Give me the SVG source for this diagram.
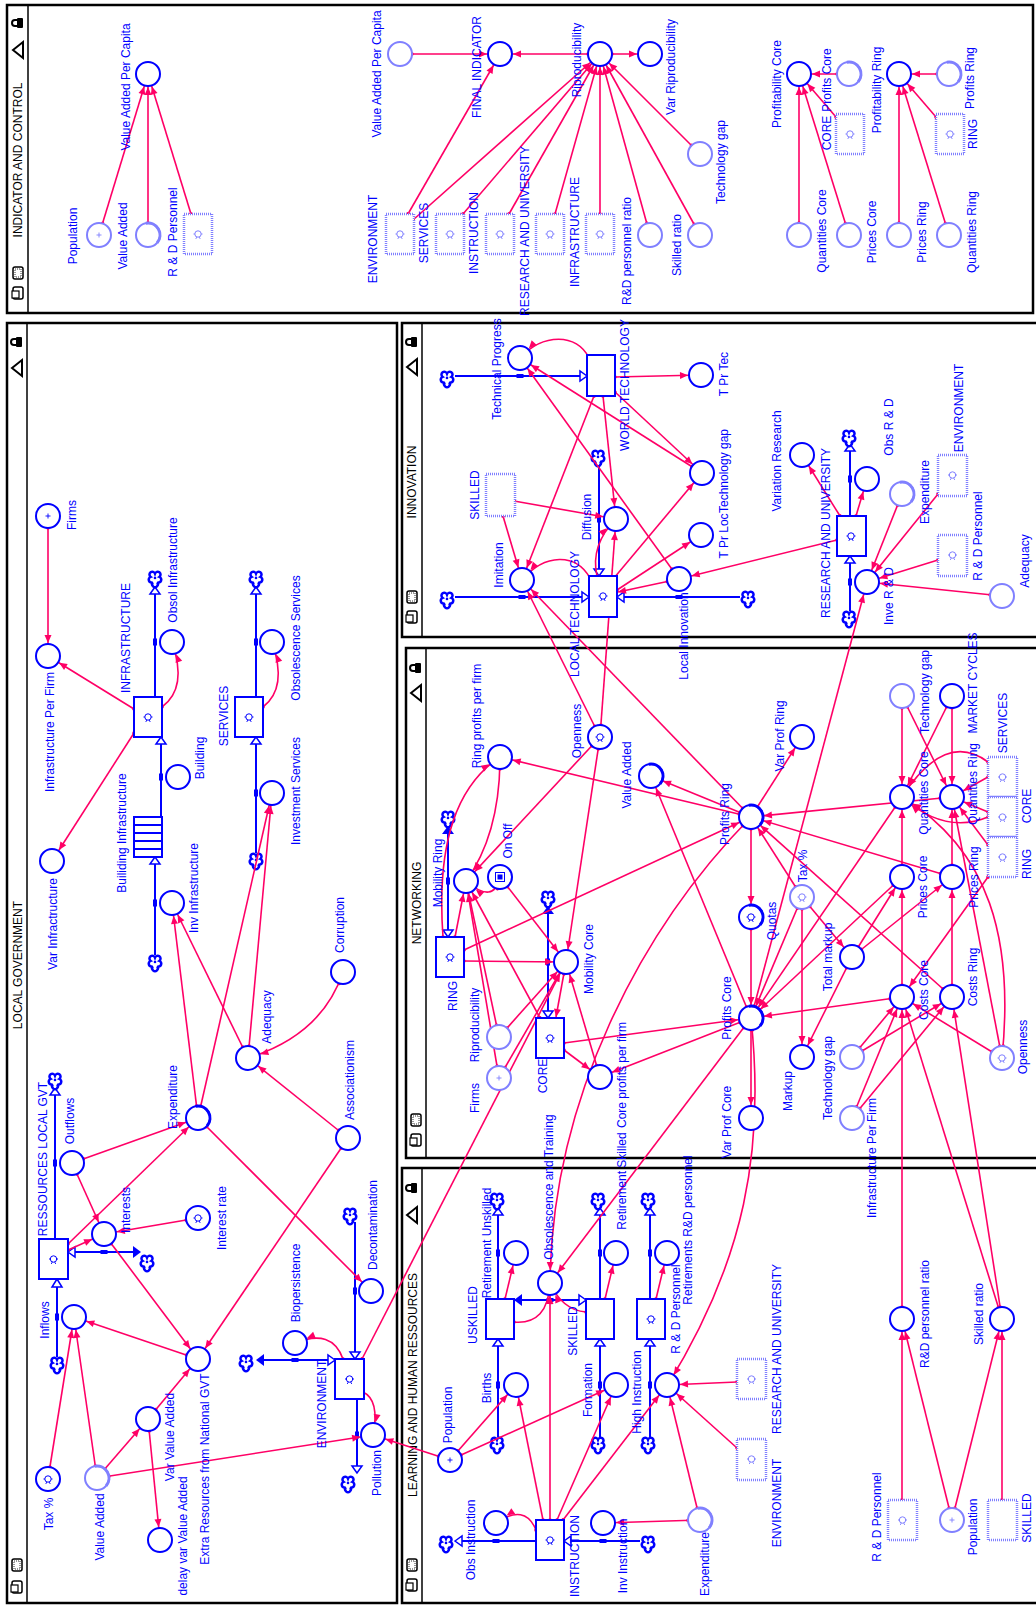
<svg xmlns="http://www.w3.org/2000/svg" xmlns:xlink="http://www.w3.org/1999/xlink" width="1036" height="1605" viewBox="0 0 1036 1605">
<style>
.t{font-family:"Liberation Sans",Arial,sans-serif;font-size:12px;fill:#0000ff;text-anchor:middle}
.h{font-family:"Liberation Sans",Arial,sans-serif;font-size:12px;fill:#000;text-anchor:middle}
.c{fill:#fff;stroke:#0000ff;stroke-width:2}
.g{fill:#fff;stroke:#8080ff;stroke-width:2}
.s{fill:#fff;stroke:#0000ff;stroke-width:2}
.gs{fill:#fff;stroke:#8080ff;stroke-width:2.5;stroke-dasharray:1 1}
.k{fill:none;stroke:#ff0066;stroke-width:1.6;marker-start:url(#d);marker-end:url(#a)}
.r{marker-start:url(#d0)}
.e{marker-end:url(#b)}
.p{stroke:#0000ff;stroke-width:2;fill:none}
.ht{fill:#fff;stroke:#0000ff;stroke-width:1.5}
.ft{fill:#0000ff}
.v{fill:#0000ff}
.fr{fill:none;stroke:#000;stroke-width:2.5}
.dv{stroke:#000;stroke-width:1.5}
.qd{color:#0000ff}
.ql{color:#8080ff}
.ld{stroke:#0000ff}
.ll{stroke:#8080ff}
</style>
<defs>
<marker id="a" markerUnits="userSpaceOnUse" markerWidth="40" markerHeight="12" viewBox="-30 -6 40 12" refX="0" refY="0" orient="auto"><path d="M-21,-3.5L-13,0L-21,3.5z" fill="#ff0066"/></marker>
<marker id="b" markerUnits="userSpaceOnUse" markerWidth="12" markerHeight="12" viewBox="-10 -6 12 12" refX="0" refY="0" orient="auto"><path d="M-8,-3.5L0,0L-8,3.5z" fill="#ff0066"/></marker>
<marker id="d" markerUnits="userSpaceOnUse" markerWidth="20" markerHeight="8" viewBox="0 -4 20 8" refX="0" refY="0" orient="auto"><circle cx="12" cy="0" r="1.8" fill="#ff0066"/></marker>
<marker id="d0" markerUnits="userSpaceOnUse" markerWidth="6" markerHeight="6" viewBox="-3 -3 6 6" refX="0" refY="0" orient="auto"><circle cx="0" cy="0" r="1.8" fill="#ff0066"/></marker>
<g id="q"><circle r="3.2" fill="none" stroke="currentColor" stroke-width="1"/><path d="M-1.2,3.1l-1,1.8M1.2,3.1l1,1.8M-3.2,0h-1.3M3.2,0h1.3" stroke="currentColor" stroke-width="1" fill="none"/></g>
<g id="pl"><path d="M-2.5,0h5M0,-2.5v5" stroke="currentColor" stroke-width="0.9"/></g>
<path id="lp" d="M-2.1,-11.8A12,12 0 0 1 9.2,7.7" fill="none" stroke-width="3"/>
<g id="cl"><path transform="scale(1.1)" d="M-4,-1a2.6,2.6 0 1 1 4,-3a2.6,2.6 0 1 1 4,3a2.6,2.6 0 1 1 -2,5a2.6,2.6 0 1 1 -4,0a2.6,2.6 0 1 1 -2,-5z" fill="#fff" stroke="#0000ff" stroke-width="2.3"/><circle r="1.3" fill="#0000ff"/></g>
<g id="lock"><rect x="-1" y="-5" width="6" height="10" rx="1" fill="#000"/><path d="M-1,-3h-2a3,3 0 0 0 0,6h2" fill="none" stroke="#000" stroke-width="2"/></g>
<path id="tri" d="M-5,0L5,-8L5,8z" fill="#fff" stroke="#000" stroke-width="2"/>
<g id="ic1"><rect x="-5" y="-6" width="10" height="12" rx="2" fill="#fff" stroke="#000" stroke-width="1.5"/><rect x="-3" y="-4" width="6" height="8" fill="none" stroke="#000" stroke-width="0.8" stroke-dasharray="1 1"/></g>
<g id="ic2"><rect x="-5" y="-6" width="10" height="12" rx="2" fill="#fff" stroke="#000" stroke-width="1.5"/><rect x="-6" y="-2" width="7" height="7" fill="#fff" stroke="#000" stroke-width="1.2"/></g>
</defs>
<rect x="0" y="0" width="1036" height="1605" fill="#fff"/>

<g id="frames">
<rect class="fr" x="7" y="5" width="1026" height="308"/><line class="dv" x1="28" y1="5" x2="28" y2="313"/>
<text class="h" transform="translate(18 160) rotate(-90)" dy="4">INDICATOR AND CONTROL</text>
<use href="#lock" x="18" y="23"/><use href="#tri" x="18" y="50"/><use href="#ic1" x="18" y="273"/><use href="#ic2" x="18" y="293"/>
<rect class="fr" x="7" y="323" width="390" height="1280"/><line class="dv" x1="27" y1="323" x2="27" y2="1603"/>
<text class="h" transform="translate(18 965) rotate(-90)" dy="4">LOCAL GOVERNMENT</text>
<use href="#lock" x="17" y="342"/><use href="#tri" x="17" y="368"/><use href="#ic1" x="17" y="1565"/><use href="#ic2" x="17" y="1587"/>
<rect class="fr" x="402" y="323" width="640" height="314"/><line class="dv" x1="422" y1="323" x2="422" y2="637"/>
<text class="h" transform="translate(412 482) rotate(-90)" dy="4">INNOVATION</text>
<use href="#lock" x="412" y="342"/><use href="#tri" x="412" y="367"/><use href="#ic1" x="412" y="597"/><use href="#ic2" x="412" y="617"/>
<rect class="fr" x="406" y="648" width="636" height="510"/><line class="dv" x1="426" y1="648" x2="426" y2="1158"/>
<text class="h" transform="translate(417 903) rotate(-90)" dy="4">NETWORKING</text>
<use href="#lock" x="416" y="668"/><use href="#tri" x="416" y="693"/><use href="#ic1" x="416" y="1120"/><use href="#ic2" x="416" y="1140"/>
<rect class="fr" x="402" y="1168" width="640" height="435"/><line class="dv" x1="422" y1="1168" x2="422" y2="1603"/>
<text class="h" transform="translate(413 1385) rotate(-90)" dy="4">LEARNING AND HUMAN RESSOURCES</text>
<use href="#lock" x="412" y="1188"/><use href="#tri" x="412" y="1215"/><use href="#ic1" x="412" y="1565"/><use href="#ic2" x="412" y="1585"/>
</g>

<g id="flows">
<path class="p" d="M155,697V594M256,697V594M161,817V744M155,955V864M256,853V744M55,1239V1095M57,1357V1287M68,1252H133M335,1360H264M355,1222V1352M357,1399V1466"/>
<polygon class="ht" points="155,587 150,594 160,594"/><use href="#cl" x="155" y="578"/>
<polygon class="ht" points="256,587 251,594 261,594"/><use href="#cl" x="256" y="578"/>
<polygon class="ht" points="161,737 156,744 166,744"/>
<polygon class="ht" points="155,857 150,864 160,864"/><use href="#cl" x="155" y="962"/>
<polygon class="ht" points="256,737 251,744 261,744"/><use href="#cl" x="256" y="860"/>
<polygon class="ht" points="55,1088 50,1095 60,1095"/><use href="#cl" x="55" y="1080"/>
<polygon class="ht" points="57,1279 52,1287 62,1287"/><use href="#cl" x="57" y="1364"/>
<polygon class="ft" points="141,1252 133,1246 133,1258"/><polygon class="ht" points="68,1252 75,1247 75,1257"/><use href="#cl" x="147" y="1262"/>
<polygon class="ft" points="256,1360 264,1354 264,1366"/><polygon class="ht" points="335,1360 328,1355 328,1365"/><use href="#cl" x="246" y="1362"/>
<polygon class="ht" points="355,1359 350,1352 360,1352"/><use href="#cl" x="350" y="1215"/>
<polygon class="ht" points="357,1473 352,1466 362,1466"/><use href="#cl" x="348" y="1483"/>
<rect class="s" x="134" y="817" width="28" height="40"/><path class="p" d="M134,825H162M134,833H162M134,841H162M134,849H162" stroke-width="1.5"/>
<path class="p" d="M455,376H580M599,464V569M455,597H582M740,597H624M850,516V451M850,611V563"/>
<polygon class="ht" points="587,376 580,371 580,381"/><use href="#cl" x="447" y="378"/>
<polygon class="ht" points="599,576 594,569 604,569"/><use href="#cl" x="598" y="457"/>
<polygon class="ht" points="589,597 582,592 582,602"/><use href="#cl" x="447" y="599"/>
<polygon class="ht" points="617,597 624,592 624,602"/><use href="#cl" x="748" y="598"/>
<polygon class="ht" points="850,444 845,451 855,451"/><use href="#cl" x="849" y="437"/>
<polygon class="ht" points="850,556 845,563 855,563"/><use href="#cl" x="849" y="618"/>
<path class="p" d="M448,834V930M548,914V1011"/>
<polygon class="ft" points="448,826 442,834 454,834"/><polygon class="ht" points="448,937 443,930 453,930"/><use href="#cl" x="448" y="818"/>
<polygon class="ft" points="548,906 542,914 554,914"/><polygon class="ht" points="548,1018 543,1011 553,1011"/><use href="#cl" x="548" y="898"/>
<path class="p" d="M498,1299V1215M498,1437V1346M514,1300H586M600,1299V1215M600,1437V1346M650,1299V1215M650,1437V1346M536,1541H462M640,1541H571"/>
<polygon class="ht" points="498,1208 493,1215 503,1215"/><use href="#cl" x="497" y="1200"/>
<polygon class="ht" points="498,1339 493,1346 503,1346"/><use href="#cl" x="497" y="1444"/>
<polygon class="ft" points="514,1300 522,1294 522,1306"/><polygon class="ht" points="586,1300 579,1295 579,1305"/>
<polygon class="ht" points="600,1208 595,1215 605,1215"/><use href="#cl" x="598" y="1200"/>
<polygon class="ht" points="600,1339 595,1346 605,1346"/><use href="#cl" x="598" y="1444"/>
<polygon class="ht" points="650,1208 645,1215 655,1215"/><use href="#cl" x="648" y="1200"/>
<polygon class="ht" points="650,1339 645,1346 655,1346"/><use href="#cl" x="648" y="1444"/>
<polygon class="ht" points="455,1541 462,1536 462,1546"/><use href="#cl" x="446" y="1543"/>
<polygon class="ht" points="564,1541 571,1536 571,1546"/><use href="#cl" x="648" y="1543"/>
<g class="v">
<rect x="153" y="638.5" width="4" height="7"/><rect x="254" y="638.5" width="4" height="7"/><rect x="159" y="773.5" width="4" height="7"/><rect x="153" y="899.5" width="4" height="7"/><rect x="254" y="789.5" width="4" height="7"/><rect x="53" y="1159.5" width="4" height="7"/><rect x="55" y="1313.5" width="4" height="7"/><rect x="100.5" y="1250" width="7" height="4"/><rect x="291.5" y="1358" width="7" height="4"/><rect x="353" y="1287.5" width="4" height="7"/><rect x="355" y="1431.5" width="4" height="7"/>
<rect x="516.5" y="374" width="7" height="4"/><rect x="597" y="515.5" width="4" height="7"/><rect x="518.5" y="595" width="7" height="4"/><rect x="675.5" y="595" width="7" height="4"/><rect x="848" y="475.5" width="4" height="7"/><rect x="848" y="578.5" width="4" height="7"/>
<rect x="446" y="877.5" width="4" height="7"/><rect x="546" y="958.5" width="4" height="7"/>
<rect x="496" y="1249.5" width="4" height="7"/><rect x="496" y="1381.5" width="4" height="7"/><rect x="546.5" y="1298" width="7" height="4"/><rect x="598" y="1249.5" width="4" height="7"/><rect x="598" y="1381.5" width="4" height="7"/><rect x="648" y="1249.5" width="4" height="7"/><rect x="648" y="1381.5" width="4" height="7"/><rect x="492.5" y="1539" width="7" height="4"/><rect x="599.5" y="1539" width="7" height="4"/>
</g>
</g>

<g id="connectors">
<path class="k" d="M99,235L148,74"/><path class="k" d="M148,235L148,74"/><path class="k r" d="M191,214L148,74"/>
<path class="k" d="M400,54L500,54"/><path class="k r" d="M408,214L500,54"/><path class="k r" d="M413,220L600,54"/><path class="k r" d="M463,214L600,54"/><path class="k r" d="M509,214L600,54"/><path class="k r" d="M555,214L600,54"/><path class="k r" d="M600,214L600,54"/><path class="k" d="M650,235L600,54"/><path class="k" d="M700,235L600,54"/><path class="k" d="M700,154L600,54"/><path class="k" d="M600,54L500,54"/><path class="k" d="M600,54L650,54"/>
<path class="k" d="M849,74L799,74"/><path class="k r" d="M836,117L799,74"/><path class="k" d="M799,235L799,74"/><path class="k" d="M849,235L799,74"/>
<path class="k" d="M949,74L899,74"/><path class="k r" d="M936,117L899,74"/><path class="k" d="M899,235L899,74"/><path class="k" d="M949,235L899,74"/>

<path class="k" d="M48,516L48,656"/><path class="k r" d="M134,709L48,656"/><path class="k r" d="M134,733L52,861"/>
<path class="k r" d="M162,707Q188,688 172,642"/><path class="k r" d="M263,707Q288,688 272,642"/>
<path class="k" d="M198,1118L172,903"/><path class="k" d="M198,1118L272,793"/><path class="k" d="M248,1058L172,903"/><path class="k" d="M248,1058L272,793"/>
<path class="k" d="M343,972Q322,1035 248,1058"/><path class="k" d="M348,1138L248,1058"/><path class="k" d="M348,1138L198,1359"/>
<path class="k" d="M72,1163L198,1118"/><path class="k r" d="M68,1244L198,1118"/><path class="k" d="M72,1163L104,1234"/><path class="k r" d="M68,1250L104,1234"/>
<path class="k" d="M198,1218L104,1234"/><path class="k" d="M104,1234L198,1359"/><path class="k" d="M198,1359L74,1317"/><path class="k" d="M48,1479L74,1317"/><path class="k" d="M97,1478L74,1317"/><path class="k" d="M97,1478L148,1419"/><path class="k" d="M148,1419L198,1359"/><path class="k" d="M148,1419L160,1540"/><path class="k" d="M97,1478L373,1435"/><path class="k" d="M198,1118L371,1291"/>
<path class="k r" d="M343,1359Q332,1328 295,1343"/><path class="k r" d="M363,1392Q380,1400 373,1435"/><path class="k" d="M450,1460L373,1435"/><path class="k r" d="M362,1359L566,962"/>

<path class="k r" d="M443,937C436,840 458,785 500,757"/><path class="k" d="M500,757C500,800 492,845 466,881"/><path class="k" d="M600,737L466,881"/><path class="k" d="M500,877Q494,905 466,881"/>
<path class="k" d="M500,877L566,962"/><path class="k" d="M600,737L566,962"/><path class="k r" d="M464,961L566,962"/><path class="k r" d="M464,950L751,817"/><path class="k r" d="M455,937L466,881"/>
<path class="k" d="M499,1037L466,881"/><path class="k" d="M499,1078L466,881"/><path class="k r" d="M540,1018L466,881"/><path class="k" d="M499,1037L566,962"/><path class="k" d="M499,1078L566,962"/>
<path class="k e" d="M566,962L556,1017"/><path class="k" d="M600,1077L566,962"/><path class="k r" d="M564,1050L600,1077"/><path class="k r" d="M564,1043L751,1018"/><path class="k" d="M751,1018L600,1077"/>
<path class="k" d="M751,817L500,757"/><path class="k" d="M751,817L651,776"/><path class="k" d="M751,1018L651,776"/><path class="k" d="M751,817L802,737"/><path class="k" d="M751,817L751,917"/><path class="k" d="M751,917L751,1018"/>
<path class="k" d="M902,797L751,1018"/><path class="k" d="M902,877L751,1018"/><path class="k" d="M902,997L751,1018"/><path class="k" d="M952,797L751,817"/><path class="k" d="M952,877L751,817"/><path class="k" d="M952,997L751,817"/>
<path class="k" d="M802,897L751,817"/><path class="k" d="M802,897L751,1018"/><path class="k" d="M802,897L802,1057"/><path class="k" d="M802,897L852,957"/><path class="k" d="M852,957L802,1057"/><path class="k" d="M852,957L902,877"/><path class="k" d="M852,957L952,877"/>
<path class="k" d="M902,877L902,797"/><path class="k" d="M902,997L902,877"/><path class="k" d="M952,877L952,797"/><path class="k" d="M952,997L952,877"/>
<path class="k" d="M902,696L902,797"/><path class="k" d="M902,696L952,797"/><path class="k" d="M952,696L952,797"/><path class="k" d="M952,696L902,797"/>
<path class="k r" d="M988,762Q945,730 902,797"/><path class="k r" d="M988,777L952,797"/><path class="k r" d="M988,812L952,797"/><path class="k r" d="M988,817Q945,835 902,797"/><path class="k r" d="M988,845L952,797"/><path class="k r" d="M988,877L902,997"/>
<path class="k" d="M1002,1058L902,997"/><path class="k" d="M1002,1058L952,797"/><path class="k" d="M1002,1058C1014,940 990,850 902,797"/>
<path class="k" d="M852,1057L902,997"/><path class="k" d="M852,1057L952,997"/><path class="k" d="M852,1118L902,997"/><path class="k" d="M852,1118L952,997"/>
<path class="k" d="M902,1319L902,997"/><path class="k" d="M1002,1319L902,997"/><path class="k" d="M1002,1319L952,997"/>
<path class="k" d="M751,1018L867,582"/><path class="k" d="M751,1018L751,1118"/><path class="k" d="M751,1018C765,1150 745,1260 667,1386"/><path class="k" d="M751,817C640,930 552,1100 550,1283"/><path class="k" d="M751,1018L550,1283"/>

<path class="k r" d="M589,358C577,333 543,333 520,358"/><path class="k r" d="M615,377L701,375"/><path class="k r" d="M594,396L522,580"/><path class="k r" d="M603,396L616,519"/><path class="k r" d="M615,392L702,473"/>
<path class="k" d="M702,473L520,358"/><path class="k" d="M679,579L520,358"/><path class="k r" d="M514,501L616,519"/><path class="k r" d="M503,516L522,580"/>
<path class="k r" d="M597,576Q590,545 616,519"/><path class="k r" d="M590,578C576,553 545,553 522,580"/><path class="k r" d="M617,590L701,535"/><path class="k r" d="M614,578L702,473"/><path class="k e" d="M679,579L618,592"/>
<path class="k r" d="M837,540L679,579"/><path class="k r" d="M840,516L802,455"/><path class="k r" d="M856,516L867,479"/>
<path class="k" d="M902,494L867,582"/><path class="k r" d="M938,494L867,582"/><path class="k r" d="M938,560L867,582"/><path class="k" d="M1002,596L867,582"/>
<path class="k" d="M600,737L522,580"/><path class="k" d="M751,817L522,580"/><path class="k" d="M600,737L616,519"/>

<path class="k r" d="M505,1299L516,1253"/><path class="k r" d="M605,1299L616,1253"/><path class="k r" d="M656,1299L667,1253"/>
<path class="k" d="M450,1460L516,1385"/><path class="k" d="M450,1460L616,1385"/>
<path class="k r" d="M543,1520L516,1385"/><path class="k r" d="M550,1520L550,1283"/><path class="k r" d="M557,1520L616,1385"/><path class="k r" d="M563,1520L667,1385"/>
<path class="k r" d="M536,1530Q525,1503 496,1523"/><path class="k" d="M700,1520L603,1523"/><path class="k" d="M700,1520L667,1385"/>
<path class="k r" d="M514,1322Q548,1325 550,1283"/><path class="k r" d="M586,1312Q562,1310 550,1283"/>
<path class="k r" d="M737,1382L667,1385"/><path class="k r" d="M737,1448L667,1385"/>
<path class="k r" d="M902,1500L902,1319"/><path class="k" d="M952,1520L902,1319"/><path class="k" d="M952,1520L1002,1319"/><path class="k r" d="M1002,1500L1002,1319"/>
</g>

<g id="top-nodes">
<g id="t-pop"><circle class="g" cx="99" cy="235" r="12"/><use href="#pl" x="99" y="235" class="ql"/><text class="t" transform="translate(73 236) rotate(-90)" dy="4">Population</text></g>
<g id="t-va"><circle class="g" cx="148" cy="235" r="12"/><use href="#lp" x="148" y="235" class="ll"/><text class="t" transform="translate(123 236) rotate(-90)" dy="4">Value Added</text></g>
<g id="t-rdp"><rect class="gs" x="184" y="214" width="28" height="40"/><use href="#q" x="198" y="234" class="ql"/><text class="t" transform="translate(173 232) rotate(-90)" dy="4">R &amp; D Personnel</text></g>
<g id="t-vapc"><circle class="c" cx="148" cy="74" r="12"/><text class="t" transform="translate(126 87) rotate(-90)" dy="4">Value Added Per Capita</text></g>
<g id="t-vapc2"><circle class="g" cx="400" cy="54" r="12"/><text class="t" transform="translate(377 74) rotate(-90)" dy="4">Value Added Per Capita</text></g>
<g id="t-final"><circle class="c" cx="500" cy="54" r="12"/><text class="t" transform="translate(477 67) rotate(-90)" dy="4">FINAL INDICATOR</text></g>
<g id="t-env"><rect class="gs" x="386" y="214" width="28" height="40"/><use href="#q" x="400" y="234" class="ql"/><text class="t" transform="translate(373 239) rotate(-90)" dy="4">ENVIRONMENT</text></g>
<g id="t-serv"><rect class="gs" x="436" y="214" width="28" height="40"/><use href="#q" x="450" y="234" class="ql"/><text class="t" transform="translate(424 233) rotate(-90)" dy="4">SERVICES</text></g>
<g id="t-instr"><rect class="gs" x="486" y="214" width="28" height="40"/><use href="#q" x="500" y="234" class="ql"/><text class="t" transform="translate(474 233) rotate(-90)" dy="4">INSTRUCTION</text></g>
<g id="t-ru"><rect class="gs" x="536" y="214" width="28" height="40"/><use href="#q" x="550" y="234" class="ql"/><text class="t" transform="translate(525 231) rotate(-90)" dy="4">RESEARCH AND UNIVERSITY</text></g>
<g id="t-infra"><rect class="gs" x="586" y="214" width="28" height="40"/><use href="#q" x="600" y="234" class="ql"/><text class="t" transform="translate(575 232) rotate(-90)" dy="4">INFRASTRUCTURE</text></g>
<g id="t-rip"><circle class="c" cx="600" cy="54" r="12"/><text class="t" transform="translate(577 60) rotate(-90)" dy="4">Riproducibility</text></g>
<g id="t-varrip"><circle class="c" cx="650" cy="54" r="12"/><text class="t" transform="translate(671 67) rotate(-90)" dy="4">Var Riproducibility</text></g>
<g id="t-rdr"><circle class="g" cx="650" cy="235" r="12"/><text class="t" transform="translate(627 251) rotate(-90)" dy="4">R&amp;D personnel ratio</text></g>
<g id="t-skr"><circle class="g" cx="700" cy="235" r="12"/><text class="t" transform="translate(677 245) rotate(-90)" dy="4">Skilled ratio</text></g>
<g id="t-tg"><circle class="g" cx="700" cy="154" r="12"/><text class="t" transform="translate(721 162) rotate(-90)" dy="4">Technology gap</text></g>
<g id="t-profc"><circle class="c" cx="799" cy="74" r="12"/><text class="t" transform="translate(777 84) rotate(-90)" dy="4">Profitability Core</text></g>
<g id="t-pc"><circle class="g" cx="849" cy="74" r="12"/><use href="#lp" x="849" y="74" class="ll"/><text class="t" transform="translate(827 80) rotate(-90)" dy="4">Profits Core</text></g>
<g id="t-core"><rect class="gs" x="836" y="114" width="28" height="40"/><use href="#q" x="850" y="134" class="ql"/><text class="t" transform="translate(827 133) rotate(-90)" dy="4">CORE</text></g>
<g id="t-qc"><circle class="g" cx="799" cy="235" r="12"/><text class="t" transform="translate(822 231) rotate(-90)" dy="4">Quantities Core</text></g>
<g id="t-prc"><circle class="g" cx="849" cy="235" r="12"/><text class="t" transform="translate(872 232) rotate(-90)" dy="4">Prices Core</text></g>
<g id="t-profr"><circle class="c" cx="899" cy="74" r="12"/><text class="t" transform="translate(877 90) rotate(-90)" dy="4">Profitability Ring</text></g>
<g id="t-pr"><circle class="g" cx="949" cy="74" r="12"/><use href="#lp" x="949" y="74" class="ll"/><text class="t" transform="translate(970 78) rotate(-90)" dy="4">Profits Ring</text></g>
<g id="t-ring"><rect class="gs" x="936" y="114" width="28" height="40"/><use href="#q" x="950" y="134" class="ql"/><text class="t" transform="translate(973 134) rotate(-90)" dy="4">RING</text></g>
<g id="t-prr"><circle class="g" cx="899" cy="235" r="12"/><text class="t" transform="translate(922 232) rotate(-90)" dy="4">Prices Ring</text></g>
<g id="t-qr"><circle class="g" cx="949" cy="235" r="12"/><text class="t" transform="translate(972 232) rotate(-90)" dy="4">Quantities Ring</text></g>
</g>

<g id="locgov-nodes">
<g id="l-firms"><circle class="c" cx="48" cy="516" r="12"/><use href="#pl" x="48" y="516" class="qd"/><text class="t" transform="translate(72 515) rotate(-90)" dy="4">Firms</text></g>
<g id="l-ipf"><circle class="c" cx="48" cy="656" r="12"/><text class="t" transform="translate(50 732) rotate(-90)" dy="4">Infrastructure Per Firm</text></g>
<g id="l-infra"><rect class="s" x="134" y="697" width="28" height="40"/><use href="#q" x="148" y="717" class="qd"/><text class="t" transform="translate(126 638) rotate(-90)" dy="4">INFRASTRUCTURE</text></g>
<g id="l-obsinf"><circle class="c" cx="172" cy="642" r="12"/><text class="t" transform="translate(173 570) rotate(-90)" dy="4">Obsol Infrastructure</text></g>
<g id="l-serv"><rect class="s" x="235" y="697" width="28" height="40"/><use href="#q" x="249" y="717" class="qd"/><text class="t" transform="translate(224 716) rotate(-90)" dy="4">SERVICES</text></g>
<g id="l-obssrv"><circle class="c" cx="272" cy="642" r="12"/><text class="t" transform="translate(296 638) rotate(-90)" dy="4">Obsolescence Services</text></g>
<g id="l-bldinf"><text class="t" transform="translate(122 833) rotate(-90)" dy="4">Builiding Infrastructure</text></g>
<g id="l-building"><circle class="c" cx="178" cy="777" r="12"/><text class="t" transform="translate(200 758) rotate(-90)" dy="4">Building</text></g>
<g id="l-invinf"><circle class="c" cx="172" cy="903" r="12"/><text class="t" transform="translate(194 888) rotate(-90)" dy="4">Inv Infrastructure</text></g>
<g id="l-varinf"><circle class="c" cx="52" cy="861" r="12"/><text class="t" transform="translate(53 924) rotate(-90)" dy="4">Var Infractructure</text></g>
<g id="l-invsrv"><circle class="c" cx="272" cy="793" r="12"/><text class="t" transform="translate(296 791) rotate(-90)" dy="4">Investment Services</text></g>
<g id="l-corr"><circle class="c" cx="343" cy="972" r="12"/><text class="t" transform="translate(340 925) rotate(-90)" dy="4">Corruption</text></g>
<g id="l-adeq"><circle class="c" cx="248" cy="1058" r="12"/><text class="t" transform="translate(267 1017) rotate(-90)" dy="4">Adequacy</text></g>
<g id="l-assoc"><circle class="c" cx="348" cy="1138" r="12"/><text class="t" transform="translate(350 1080) rotate(-90)" dy="4">Associationism</text></g>
<g id="l-expend"><circle class="c" cx="198" cy="1118" r="12"/><use href="#lp" x="198" y="1118" class="ld"/><text class="t" transform="translate(173 1097) rotate(-90)" dy="4">Expenditure</text></g>
<g id="l-outflows"><circle class="c" cx="72" cy="1163" r="12"/><text class="t" transform="translate(70 1121) rotate(-90)" dy="4">Outflows</text></g>
<g id="l-res"><rect class="s" x="39" y="1239" width="29" height="40"/><use href="#q" x="53.5" y="1259" class="qd"/><text class="t" transform="translate(43 1159) rotate(-90)" dy="4">RESSOURCES LOCAL GVT</text></g>
<g id="l-interests"><circle class="c" cx="104" cy="1234" r="12"/><text class="t" transform="translate(126 1210) rotate(-90)" dy="4">Interests</text></g>
<g id="l-irate"><circle class="c" cx="198" cy="1218" r="12"/><use href="#q" x="198" y="1218" class="qd"/><text class="t" transform="translate(222 1218) rotate(-90)" dy="4">Interest rate</text></g>
<g id="l-extra"><circle class="c" cx="198" cy="1359" r="12"/><text class="t" transform="translate(205 1469) rotate(-90)" dy="4">Extra Resources from National GVT</text></g>
<g id="l-inflows"><circle class="c" cx="74" cy="1317" r="12"/><text class="t" transform="translate(45 1320) rotate(-90)" dy="4">Inflows</text></g>
<g id="l-tax"><circle class="c" cx="48" cy="1479" r="12"/><use href="#q" x="48" y="1479" class="qd"/><text class="t" transform="translate(49 1514) rotate(-90)" dy="4">Tax %</text></g>
<g id="l-va"><circle class="g" cx="97" cy="1478" r="12"/><use href="#lp" x="97" y="1478" class="ll"/><text class="t" transform="translate(100 1527) rotate(-90)" dy="4">Value Added</text></g>
<g id="l-varva"><circle class="c" cx="148" cy="1419" r="12"/><text class="t" transform="translate(170 1437) rotate(-90)" dy="4">Var Value Added</text></g>
<g id="l-delay"><circle class="c" cx="160" cy="1540" r="12"/><text class="t" transform="translate(183 1536) rotate(-90)" dy="4">delay var Value Added</text></g>
<g id="l-env"><rect class="s" x="335" y="1359" width="29" height="40"/><use href="#q" x="349.5" y="1379" class="qd"/><text class="t" transform="translate(322 1404) rotate(-90)" dy="4">ENVIRONMENT</text></g>
<g id="l-bio"><circle class="c" cx="295" cy="1343" r="12"/><text class="t" transform="translate(296 1283) rotate(-90)" dy="4">Biopersistence</text></g>
<g id="l-decon"><circle class="c" cx="371" cy="1291" r="12"/><text class="t" transform="translate(373 1225) rotate(-90)" dy="4">Decontamination</text></g>
<g id="l-poll"><circle class="c" cx="373" cy="1435" r="12"/><text class="t" transform="translate(377 1473) rotate(-90)" dy="4">Pollution</text></g>
</g>

<g id="innovation-nodes">
<g id="i-tp"><circle class="c" cx="520" cy="358" r="12"/><text class="t" transform="translate(497 369) rotate(-90)" dy="4">Technical Progress</text></g>
<g id="i-wt"><rect class="s" x="587" y="355" width="28" height="41"/><text class="t" transform="translate(625 385) rotate(-90)" dy="4">WORLD TECHNOLOGY</text></g>
<g id="i-tprtec"><circle class="c" cx="701" cy="375" r="12"/><text class="t" transform="translate(724 374) rotate(-90)" dy="4">T Pr Tec</text></g>
<g id="i-tg"><circle class="c" cx="702" cy="473" r="12"/><text class="t" transform="translate(724 471) rotate(-90)" dy="4">Technology gap</text></g>
<g id="i-tprloc"><circle class="c" cx="701" cy="535" r="12"/><text class="t" transform="translate(724 536) rotate(-90)" dy="4">T Pr Loc</text></g>
<g id="i-skilled"><rect class="gs" x="486" y="474" width="29" height="42"/><text class="t" transform="translate(475 495) rotate(-90)" dy="4">SKILLED</text></g>
<g id="i-diff"><circle class="c" cx="616" cy="519" r="12"/><text class="t" transform="translate(587 517) rotate(-90)" dy="4">Diffusion</text></g>
<g id="i-lt"><rect class="s" x="589" y="576" width="28" height="41"/><use href="#q" x="603" y="596" class="qd"/><text class="t" transform="translate(575 614) rotate(-90)" dy="4">LOCAL TECHNOLOGY</text></g>
<g id="i-imit"><circle class="c" cx="522" cy="580" r="12"/><text class="t" transform="translate(499 565) rotate(-90)" dy="4">Imitation</text></g>
<g id="i-li"><circle class="c" cx="679" cy="579" r="12"/><text class="t" transform="translate(684 636) rotate(-90)" dy="4">Local Innovation</text></g>
<g id="i-ru"><rect class="s" x="837" y="516" width="29" height="40"/><use href="#q" x="851" y="536" class="qd"/><text class="t" transform="translate(826 533) rotate(-90)" dy="4">RESEARCH AND UNIVERSITY</text></g>
<g id="i-obsrd"><circle class="c" cx="867" cy="479" r="12"/><text class="t" transform="translate(889 427) rotate(-90)" dy="4">Obs R &amp; D</text></g>
<g id="i-inverd"><circle class="c" cx="867" cy="582" r="12"/><text class="t" transform="translate(889 596) rotate(-90)" dy="4">Inve R &amp; D</text></g>
<g id="i-varres"><circle class="c" cx="802" cy="455" r="12"/><text class="t" transform="translate(777 461) rotate(-90)" dy="4">Variation Research</text></g>
<g id="i-expend"><circle class="g" cx="902" cy="494" r="12"/><use href="#lp" x="902" y="494" class="ll"/><text class="t" transform="translate(925 492) rotate(-90)" dy="4">Expenditure</text></g>
<g id="i-env"><rect class="gs" x="938" y="455" width="29" height="41"/><use href="#q" x="952.5" y="475" class="ql"/><text class="t" transform="translate(959 408) rotate(-90)" dy="4">ENVIRONMENT</text></g>
<g id="i-rdp"><rect class="gs" x="938" y="535" width="29" height="41"/><use href="#q" x="952.5" y="555" class="ql"/><text class="t" transform="translate(978 536) rotate(-90)" dy="4">R &amp; D Personnel</text></g>
<g id="i-adeq"><circle class="g" cx="1002" cy="596" r="12"/><text class="t" transform="translate(1025 561) rotate(-90)" dy="4">Adequacy</text></g>
</g>

<g id="networking-nodes">
<g id="n-rppf"><circle class="c" cx="500" cy="757" r="12"/><text class="t" transform="translate(477 716) rotate(-90)" dy="4">Ring profits per firm</text></g>
<g id="n-mobring"><circle class="c" cx="466" cy="881" r="12"/><text class="t" transform="translate(438 873) rotate(-90)" dy="4">Mobility Ring</text></g>
<g id="n-onoff"><circle class="c" cx="500" cy="877" r="12"/><rect x="495.5" y="872.5" width="9" height="9" fill="none" stroke="#0000ff" stroke-width="1"/><rect x="497.5" y="874.5" width="5" height="5" fill="#0000ff"/><text class="t" transform="translate(508 841) rotate(-90)" dy="4">On Off</text></g>
<g id="n-ring"><rect class="s" x="436" y="937" width="28" height="40"/><use href="#q" x="450" y="957" class="qd"/><text class="t" transform="translate(453 996) rotate(-90)" dy="4">RING</text></g>
<g id="n-mobcore"><circle class="c" cx="566" cy="962" r="12"/><text class="t" transform="translate(589 959) rotate(-90)" dy="4">Mobility Core</text></g>
<g id="n-core"><rect class="s" x="536" y="1018" width="28" height="40"/><use href="#q" x="550" y="1038" class="qd"/><text class="t" transform="translate(543 1076) rotate(-90)" dy="4">CORE</text></g>
<g id="n-rip"><circle class="g" cx="499" cy="1037" r="12"/><text class="t" transform="translate(475 1025) rotate(-90)" dy="4">Riproducibility</text></g>
<g id="n-firms"><circle class="g" cx="499" cy="1078" r="12"/><use href="#pl" x="499" y="1078" class="ql"/><text class="t" transform="translate(475 1098) rotate(-90)" dy="4">Firms</text></g>
<g id="n-open"><circle class="c" cx="600" cy="737" r="12"/><use href="#q" x="600" y="737" class="qd"/><text class="t" transform="translate(577 731) rotate(-90)" dy="4">Openness</text></g>
<g id="n-va"><circle class="c" cx="651" cy="776" r="12"/><use href="#lp" x="651" y="776" class="ld"/><text class="t" transform="translate(627 775) rotate(-90)" dy="4">Value Added</text></g>
<g id="n-cppf"><circle class="c" cx="600" cy="1077" r="12"/><text class="t" transform="translate(622 1075) rotate(-90)" dy="4">Core profits per firm</text></g>
<g id="n-profring"><circle class="c" cx="751" cy="817" r="12"/><use href="#lp" x="751" y="817" class="ld"/><text class="t" transform="translate(725 814) rotate(-90)" dy="4">Profits Ring</text></g>
<g id="n-varprofring"><circle class="c" cx="802" cy="737" r="12"/><text class="t" transform="translate(780 736) rotate(-90)" dy="4">Var Prof Ring</text></g>
<g id="n-quotas"><circle class="c" cx="751" cy="917" r="12"/><use href="#lp" x="751" y="917" class="ld"/><use href="#q" x="751" y="917" class="qd"/><text class="t" transform="translate(772 921) rotate(-90)" dy="4">Quotas</text></g>
<g id="n-tax"><circle class="g" cx="802" cy="897" r="12"/><use href="#q" x="802" y="897" class="ql"/><text class="t" transform="translate(803 866) rotate(-90)" dy="4">Tax %</text></g>
<g id="n-tmarkup"><circle class="c" cx="852" cy="957" r="12"/><text class="t" transform="translate(828 957) rotate(-90)" dy="4">Total markup</text></g>
<g id="n-markup"><circle class="c" cx="802" cy="1057" r="12"/><text class="t" transform="translate(788 1091) rotate(-90)" dy="4">Markup</text></g>
<g id="n-profcore"><circle class="c" cx="751" cy="1018" r="12"/><use href="#lp" x="751" y="1018" class="ld"/><text class="t" transform="translate(727 1008) rotate(-90)" dy="4">Profits Core</text></g>
<g id="n-varprofcore"><circle class="c" cx="751" cy="1118" r="12"/><text class="t" transform="translate(727 1122) rotate(-90)" dy="4">Var Prof Core</text></g>
<g id="n-tg2"><circle class="g" cx="852" cy="1057" r="12"/><text class="t" transform="translate(828 1078) rotate(-90)" dy="4">Technology gap</text></g>
<g id="n-ipf"><circle class="g" cx="852" cy="1118" r="12"/><text class="t" transform="translate(872 1158) rotate(-90)" dy="4">Infrastructure Per Firm</text></g>
<g id="n-qc"><circle class="c" cx="902" cy="797" r="12"/><text class="t" transform="translate(924 793) rotate(-90)" dy="4">Quantities Core</text></g>
<g id="n-pc"><circle class="c" cx="902" cy="877" r="12"/><text class="t" transform="translate(923 887) rotate(-90)" dy="4">Prices Core</text></g>
<g id="n-cc"><circle class="c" cx="902" cy="997" r="12"/><text class="t" transform="translate(924 990) rotate(-90)" dy="4">Costs Core</text></g>
<g id="n-qr"><circle class="c" cx="952" cy="797" r="12"/><text class="t" transform="translate(973 784) rotate(-90)" dy="4">Quantities Ring</text></g>
<g id="n-pr"><circle class="c" cx="952" cy="877" r="12"/><text class="t" transform="translate(974 877) rotate(-90)" dy="4">Prices Ring</text></g>
<g id="n-cr"><circle class="c" cx="952" cy="997" r="12"/><text class="t" transform="translate(973 977) rotate(-90)" dy="4">Costs Ring</text></g>
<g id="n-tg3"><circle class="g" cx="902" cy="696" r="12"/><text class="t" transform="translate(925 692) rotate(-90)" dy="4">Technology gap</text></g>
<g id="n-mc"><circle class="c" cx="952" cy="696" r="12"/><text class="t" transform="translate(973 683) rotate(-90)" dy="4">MARKET CYCLES</text></g>
<g id="n-serv"><rect class="gs" x="988" y="757" width="29" height="40"/><use href="#q" x="1002.5" y="777" class="ql"/><text class="t" transform="translate(1003 723) rotate(-90)" dy="4">SERVICES</text></g>
<g id="n-core2"><rect class="gs" x="988" y="797" width="29" height="40"/><use href="#q" x="1002.5" y="817" class="ql"/><text class="t" transform="translate(1027 806) rotate(-90)" dy="4">CORE</text></g>
<g id="n-ring2"><rect class="gs" x="988" y="837" width="29" height="40"/><use href="#q" x="1002.5" y="857" class="ql"/><text class="t" transform="translate(1027 864) rotate(-90)" dy="4">RING</text></g>
<g id="n-open2"><circle class="g" cx="1002" cy="1058" r="12"/><use href="#q" x="1002" y="1058" class="ql"/><text class="t" transform="translate(1023 1047) rotate(-90)" dy="4">Openness</text></g>
</g>

<g id="learning-nodes">
<g id="h-usk"><rect class="s" x="486" y="1299" width="28" height="40"/><text class="t" transform="translate(473 1315) rotate(-90)" dy="4">USKILLED</text></g>
<g id="h-retunsk"><circle class="c" cx="516" cy="1253" r="12"/><text class="t" transform="translate(487 1243) rotate(-90)" dy="4">Retirement Unskilled</text></g>
<g id="h-births"><circle class="c" cx="516" cy="1385" r="12"/><text class="t" transform="translate(487 1388) rotate(-90)" dy="4">Births</text></g>
<g id="h-pop"><circle class="c" cx="450" cy="1460" r="12"/><use href="#pl" x="450" y="1460" class="qd"/><text class="t" transform="translate(448 1415) rotate(-90)" dy="4">Population</text></g>
<g id="h-obstr"><circle class="c" cx="550" cy="1283" r="12"/><text class="t" transform="translate(549 1187) rotate(-90)" dy="4">Obsolescence and Training</text></g>
<g id="h-sk"><rect class="s" x="586" y="1299" width="28" height="40"/><text class="t" transform="translate(573 1331) rotate(-90)" dy="4">SKILLED</text></g>
<g id="h-retsk"><circle class="c" cx="616" cy="1253" r="12"/><text class="t" transform="translate(622 1181) rotate(-90)" dy="4">Retirement Skilled</text></g>
<g id="h-form"><circle class="c" cx="616" cy="1385" r="12"/><text class="t" transform="translate(588 1390) rotate(-90)" dy="4">Formation</text></g>
<g id="h-rdp"><rect class="s" x="637" y="1299" width="28" height="40"/><use href="#q" x="651" y="1319" class="qd"/><text class="t" transform="translate(676 1309) rotate(-90)" dy="4">R &amp; D Personnel</text></g>
<g id="h-retrd"><circle class="c" cx="667" cy="1253" r="12"/><text class="t" transform="translate(688 1230) rotate(-90)" dy="4">Retirements R&amp;D personnel</text></g>
<g id="h-hi"><circle class="c" cx="667" cy="1385" r="12"/><text class="t" transform="translate(637 1392) rotate(-90)" dy="4">High Instruction</text></g>
<g id="h-instr"><rect class="s" x="536" y="1520" width="28" height="40"/><use href="#q" x="550" y="1540" class="qd"/><text class="t" transform="translate(575 1556) rotate(-90)" dy="4">INSTRUCTION</text></g>
<g id="h-obsi"><circle class="c" cx="496" cy="1523" r="12"/><text class="t" transform="translate(471 1540) rotate(-90)" dy="4">Obs Instruction</text></g>
<g id="h-invi"><circle class="c" cx="603" cy="1523" r="12"/><text class="t" transform="translate(623 1556) rotate(-90)" dy="4">Inv Instruction</text></g>
<g id="h-expend"><circle class="g" cx="700" cy="1520" r="12"/><use href="#lp" x="700" y="1520" class="ll"/><text class="t" transform="translate(705 1564) rotate(-90)" dy="4">Expenditure</text></g>
<g id="h-ru"><rect class="gs" x="737" y="1359" width="29" height="40"/><use href="#q" x="751.5" y="1379" class="ql"/><text class="t" transform="translate(777 1349) rotate(-90)" dy="4">RESEARCH AND UNIVERSITY</text></g>
<g id="h-env"><rect class="gs" x="737" y="1439" width="29" height="41"/><use href="#q" x="751.5" y="1459" class="ql"/><text class="t" transform="translate(777 1503) rotate(-90)" dy="4">ENVIRONMENT</text></g>
<g id="h-rdr"><circle class="c" cx="902" cy="1319" r="12"/><text class="t" transform="translate(925 1314) rotate(-90)" dy="4">R&amp;D personnel ratio</text></g>
<g id="h-skr"><circle class="c" cx="1002" cy="1319" r="12"/><text class="t" transform="translate(979 1314) rotate(-90)" dy="4">Skilled ratio</text></g>
<g id="h-rdp2"><rect class="gs" x="888" y="1500" width="29" height="40"/><use href="#q" x="902.5" y="1520" class="ql"/><text class="t" transform="translate(877 1517) rotate(-90)" dy="4">R &amp; D Personnel</text></g>
<g id="h-pop2"><circle class="g" cx="952" cy="1520" r="12"/><use href="#pl" x="952" y="1520" class="ql"/><text class="t" transform="translate(973 1527) rotate(-90)" dy="4">Population</text></g>
<g id="h-sk2"><rect class="gs" x="988" y="1500" width="29" height="40"/><text class="t" transform="translate(1027 1518) rotate(-90)" dy="4">SKILLED</text></g>
</g>
</svg>
